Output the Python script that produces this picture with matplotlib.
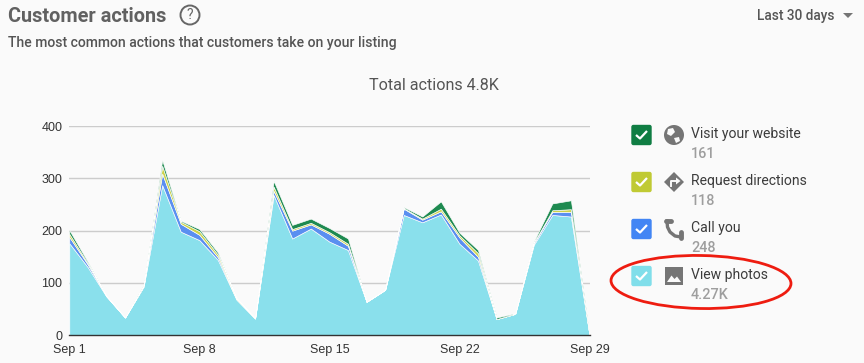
import numpy as np
import matplotlib.pyplot as plt
from matplotlib.patches import Circle, Ellipse, FancyBboxPatch, Polygon, Rectangle

plt.rcParams['font.family'] = ['Roboto', 'DejaVu Sans']

# daily values, Sep 1 to Sep 29
days = np.arange(1, 30)
view_photos = [176, 130, 74, 34, 93, 287, 198, 182, 144, 68, 32, 268, 185, 204, 179,
               163, 64, 87, 230, 216, 231, 175, 143, 31, 41, 173, 230, 227, 0]
call_you = [12, 5, 1, 0, 1, 22, 15, 10, 5, 1, 0, 8, 15, 8, 15,
            8, 0, 0, 12, 5, 6, 12, 7, 0, 0, 3, 6, 9, 0]
directions = [6, 2, 0, 0, 0, 15, 4, 7, 5, 2, 1, 8, 3, 3, 3,
              4, 0, 0, 1, 2, 5, 4, 7, 0, 0, 1, 3, 5, 0]
website = [7, 3, 0, 0, 2, 11, 2, 4, 4, 0, 0, 11, 8, 8, 8,
           10, 0, 0, 2, 4, 14, 5, 6, 3, 1, 2, 13, 17, 0]

tick_days = [1, 8, 15, 22, 29]
tick_labels = ['Sep 1', 'Sep 8', 'Sep 15', 'Sep 22', 'Sep 29']
y_ticks = [0, 100, 200, 300, 400]

legend_names = ['Visit your website', 'Request directions', 'Call you', 'View photos']
legend_values = ['161', '118', '248', '4.27K']
legend_colors = ['#0f7d43', '#c0ca33', '#4285f4', '#80deea']
area_colors = ['#8ae0ec', '#5a8ff0', '#cdd34a', '#1e8a50']

W, H = 864, 363
bg = '#fafafa'
fig = plt.figure(figsize=(W / 100, H / 100), dpi=100, facecolor=bg)

# chart axes, placed by pixels
left, right, top, bottom = 69.3, 589.5, 126, 335.3
ax = fig.add_axes([left / W, 1 - bottom / H, (right - left) / W, (bottom - top) / H])
ax.set_facecolor(bg)
ax.stackplot(days, view_photos, call_you, directions, website, colors=area_colors,
             edgecolor='white', linewidth=0.45, zorder=3)
ax.set_xlim(1, 29)
ax.set_ylim(0, 400)
ax.set_yticks(y_ticks)
ax.set_xticks(tick_days)
ax.set_xticklabels(tick_labels, family='Liberation Sans')
ax.set_yticklabels([str(v) for v in y_ticks], family='Liberation Sans')
ax.tick_params(length=0, labelsize=9, labelcolor='#333333')
ax.tick_params(axis='y', pad=5)
ax.tick_params(axis='x', pad=6)
ax.grid(axis='y', color='#cccccc', linewidth=1, zorder=1)
ax.set_axisbelow(True)
for s in ['top', 'right', 'left']:
    ax.spines[s].set_visible(False)
ax.spines['bottom'].set_color('#333333')
ax.spines['bottom'].set_linewidth(1)
ax.spines['bottom'].set_zorder(5)

# overlay in pixel coordinates for the page furniture
ov = fig.add_axes([0, 0, 1, 1], facecolor='none')
ov.set_xlim(0, W)
ov.set_ylim(H, 0)
ov.axis('off')

ov.text(8, 17, 'Customer actions', fontsize=14.3, fontweight='bold', color='#616161', va='center')
ov.add_patch(Circle((190, 15), 9.5, fc='none', ec='#666666', lw=1.4))
ov.text(190, 15.3, '?', fontsize=10, color='#666666', ha='center', va='center')
ov.text(8, 43, 'The most common actions that customers take on your listing', fontsize=10.05,
        fontweight='medium', color='#555555', va='center')
ov.text(434, 85, 'Total actions 4.8K', fontsize=11.6, color='#555555', ha='center', va='center')
ov.text(757, 16, 'Last 30 days', fontsize=9.8, fontweight='medium', color='#555555', va='center')
ov.add_patch(Polygon([(843, 13), (853, 13), (848, 18)], fc='#757575', ec='none'))

# legend
rows_y = [133, 180, 227, 274]
for i, name in enumerate(legend_names):
    y = rows_y[i]
    ov.add_patch(FancyBboxPatch((632, y - 7.5), 19, 19, boxstyle='round,pad=0,rounding_size=1.5',
                                fc=legend_colors[i], ec=legend_colors[i], lw=1))
    ov.plot([636, 640, 647], [y + 2, y + 5.5, y - 2], color='white', lw=1.6, solid_capstyle='butt')
    ov.text(691, y + 1, name, fontsize=10.1, color='#3c3c3c', va='center')
    ov.text(691, y + 21, legend_values[i], fontsize=10.4, fontweight='medium', color='#9e9e9e', va='center')

grey = '#757575'
# globe
ov.add_patch(Circle((674, 135), 10, fc=grey, ec='none'))
ov.add_patch(Polygon([(668, 129), (673, 128), (675, 132), (671, 136), (667, 134)], fc=bg, ec='none'))
ov.add_patch(Polygon([(674, 138), (679, 137), (680, 141), (676, 143)], fc=bg, ec='none'))
# directions diamond
ov.add_patch(Polygon([(674, 172), (684, 182), (674, 192), (664, 182)], fc=grey, ec='none'))
ov.plot([671, 671, 678], [186, 181, 181], color=bg, lw=1.4)
ov.add_patch(Polygon([(676, 177.5), (680.5, 181), (676, 184.5)], fc=bg, ec='none'))
# phone
ov.plot([667, 667.5, 670, 675, 681], [221, 227, 232, 236, 237], color=grey, lw=2.4)
ov.plot([665.5, 671], [221, 221], color=grey, lw=3.5, solid_capstyle='round')
ov.plot([681, 681], [232, 237.5], color=grey, lw=3.5, solid_capstyle='round')
# photo
ov.add_patch(Rectangle((665, 267), 18, 18, fc=grey, ec='none'))
ov.add_patch(Polygon([(667, 282), (671.5, 275.5), (674.5, 279), (677, 276.5), (681, 282)], fc=bg, ec='none'))

# hand drawn red circle
ov.add_patch(Ellipse((701, 282), 180, 53, angle=1, fc='none', ec='#ee1c10', lw=2))

fig.savefig('out.png', dpi=100, facecolor=bg)
